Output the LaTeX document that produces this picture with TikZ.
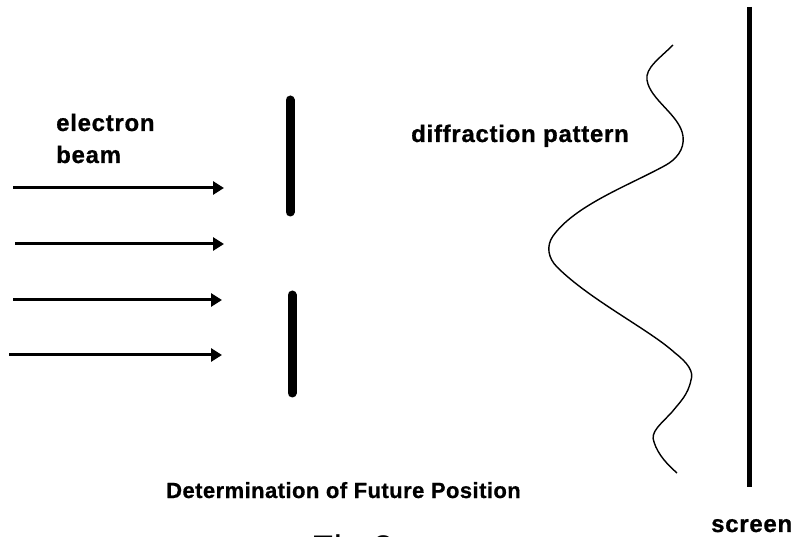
\documentclass[tikz,border=0pt]{standalone}
\usepackage{fontspec}
\setmainfont{Liberation Sans}
\newfontfamily\lblfont{Liberation Sans}[LetterSpace=3.0,BoldFeatures={FakeBold=0.8}]
\newfontfamily\capfont{Liberation Sans}[LetterSpace=2.0,BoldFeatures={FakeBold=0.8}]
\usetikzlibrary{arrows.meta}
\begin{document}
\begin{tikzpicture}[x=1pt,y=-1pt,
  beam/.style={line width=3pt,-{Triangle[length=11pt,width=13pt]}},
  barrier/.style={line width=9pt,line cap=round},
  screenline/.style={line width=5pt},
  wave/.style={line width=1.4pt,line join=round},
  label/.style={inner sep=0pt,anchor=base west,font=\lblfont\bfseries\fontsize{24}{28}\selectfont}]
  \useasboundingbox (0,0) rectangle (796,537);

  % incoming electron beam
  \coordinate (b1s) at (13,188);  \coordinate (b1e) at (224,188);
  \coordinate (b2s) at (15,244);  \coordinate (b2e) at (224,244);
  \coordinate (b3s) at (13,300);  \coordinate (b3e) at (222,300);
  \coordinate (b4s) at (9,355);   \coordinate (b4e) at (222,355);
  \draw[beam] (b1s) -- (b1e);
  \draw[beam] (b2s) -- (b2e);
  \draw[beam] (b3s) -- (b3e);
  \draw[beam] (b4s) -- (b4e);

  % slit barriers
  \draw[barrier] (290,100) -- (290,212);
  \draw[barrier] (292,295) -- (292,393);

  % screen
  \draw[screenline] (749,7) -- (749,487);

  % diffraction pattern intensity curve
  \draw[wave] (673,45)
    .. controls (660,58) and (645,68) .. (647,80)
    .. controls (650,100) and (680,115) .. (683,136)
    .. controls (685,150) and (675,160) .. (666,165)
    .. controls (630,185) and (575,205) .. (553,236)
    .. controls (546,246) and (548,258) .. (557,267)
    .. controls (590,300) and (650,330) .. (675,353)
    .. controls (688,363) and (694,372) .. (691,380)
    .. controls (688,395) and (680,402) .. (672,412)
    .. controls (660,425) and (650,432) .. (654,442)
    .. controls (658,455) and (668,465) .. (677,473);

  % labels
  \node[label] (electron) at (56,131) {electron};
  \node[label] (beamtxt) at (56,163) {beam};
  \node[label] (diff) at (411,142) {diffraction pattern};
  \node[label] (scr) at (711,532) {screen};
  \node[inner sep=0pt,anchor=base west,font=\capfont\bfseries\fontsize{22}{26}\selectfont] (caption) at (166,498) {Determination of Future Position};
  \node[inner sep=0pt,anchor=base west,font=\fontsize{37}{42}\selectfont] (fig) at (311,561.5) {Fig 2};
\end{tikzpicture}
\end{document}
